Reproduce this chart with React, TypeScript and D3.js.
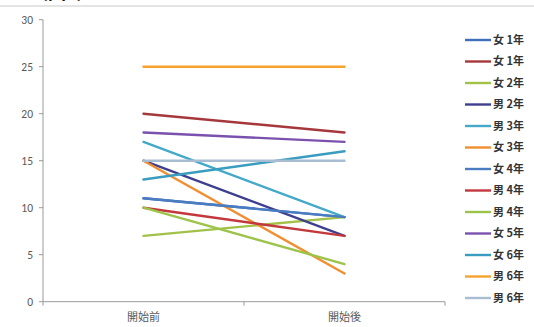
import React from "react";
import * as d3 from "d3";

// Category axis labels
const categories = ["開始前", "開始後"];

// Series names (legend order)
const seriesNames = [
  "女 1年", "女 1年", "女 2年", "男 2年", "男 3年", "女 3年", "女 4年",
  "男 4年", "男 4年", "女 5年", "女 6年", "男 6年", "男 6年",
];

// Values at 開始前 and 開始後 for each series
const beforeValues = [11, 20, 7, 15, 17, 15, 11, 10, 10, 18, 13, 25, 15];
const afterValues = [9, 18, 9, 7, 9, 3, 9, 7, 4, 17, 16, 25, 15];

const seriesColors = [
  "#3f6fb8", "#a5383b", "#a2c148", "#3e3f8e", "#44a9c8", "#f08e30", "#4a7cc2",
  "#c2383c", "#9cc44a", "#7a52ae", "#3a9cbf", "#f5a22e", "#a9bdd2",
];

const yTicks = [0, 5, 10, 15, 20, 25, 30];

const W = 534;
const H = 327;

export default function App() {
  const x = d3.scaleBand<string>().domain(categories).range([43, 445]);
  const y = d3.scaleLinear().domain([0, 30]).range([301.7, 19.7]);
  const cx = (c: string) => (x(c) ?? 0) + x.bandwidth() / 2;

  const line = d3
    .line<[string, number]>()
    .x((d) => cx(d[0]))
    .y((d) => y(d[1]));

  const axisColor = "#9a9a9a";
  const textColor = "#595959";
  const legendY = (i: number) => 40 + i * 21.5;

  return (
    <svg
      width={W}
      height={H}
      viewBox={`0 0 ${W} ${H}`}
      style={{ position: "absolute", left: 0, top: 0, background: "#fff" }}
    >
      <rect x={0} y={0} width={W} height={H} fill="#fff" />
      {/* heading of the figure, running off the top of the frame */}
      <text
        x={30}
        y={-1}
        fontFamily="'Noto Sans CJK JP', sans-serif"
        fontSize={18}
        fontWeight="bold"
        fill="#111"
      >
        （図3）
      </text>
      <line x1={0} x2={W} y1={6} y2={6} stroke="#c8c8c8" strokeWidth={1} />

      {/* y axis */}
      <line x1={43} x2={43} y1={y(30)} y2={y(0)} stroke={axisColor} strokeWidth={1} />
      {yTicks.map((t) => (
        <g key={t}>
          <line x1={39} x2={43} y1={y(t)} y2={y(t)} stroke={axisColor} strokeWidth={1} />
          <text
            x={33}
            y={y(t)}
            dy="0.35em"
            textAnchor="end"
            fontFamily="Carlito, 'Liberation Sans', 'Open Sans', sans-serif"
            fontSize={11.5}
            fill={textColor}
          >
            {t}
          </text>
        </g>
      ))}

      {/* x axis */}
      <line x1={43} x2={445} y1={y(0)} y2={y(0)} stroke={axisColor} strokeWidth={1} />
      {[43, ...categories.map((c) => (x(c) ?? 0) + x.bandwidth())].map((px, i) => (
        <line key={i} x1={px} x2={px} y1={y(0)} y2={y(0) + 4} stroke={axisColor} strokeWidth={1} />
      ))}
      {categories.map((c) => (
        <text
          key={c}
          x={cx(c)}
          y={321}
          textAnchor="middle"
          fontFamily="'Noto Sans CJK JP', sans-serif"
          fontSize={11}
          fill={textColor}
        >
          {c}
        </text>
      ))}

      {/* series lines */}
      {seriesNames.map((name, i) => (
        <path
          key={i}
          d={
            line([
              [categories[0], beforeValues[i]],
              [categories[1], afterValues[i]],
            ]) ?? ""
          }
          fill="none"
          stroke={seriesColors[i]}
          strokeWidth={2.4}
          strokeLinecap="round"
        />
      ))}

      {/* legend */}
      {seriesNames.map((name, i) => (
        <g key={i}>
          <line
            x1={465}
            x2={491}
            y1={legendY(i)}
            y2={legendY(i)}
            stroke={seriesColors[i]}
            strokeWidth={2.4}
          />
          <text
            x={493}
            y={legendY(i)}
            dy="0.35em"
            fontFamily="'Noto Sans CJK JP', sans-serif"
            fontSize={11}
            fontWeight="bold"
            fill="#333"
          >
            {name}
          </text>
        </g>
      ))}
    </svg>
  );
}
